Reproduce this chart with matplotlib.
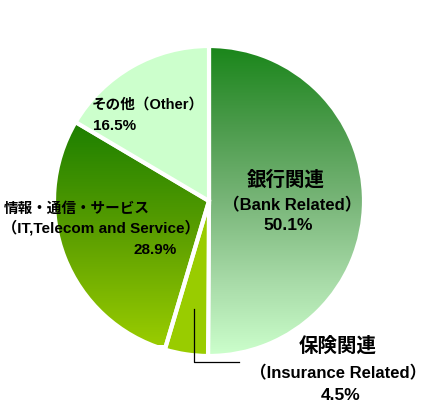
import numpy as np
import matplotlib.pyplot as plt
from matplotlib.colors import LinearSegmentedColormap

# data
names_jp = ['銀行関連', '保険関連', '情報・通信・サービス', 'その他']
names_en = ['Bank Related', 'Insurance Related', 'IT,Telecom and Service', 'Other']
shares = [50.1, 4.5, 28.9, 16.5]

FONT = ['Liberation Sans', 'Noto Sans CJK JP', 'DejaVu Sans']
plt.rcParams['font.family'] = FONT

W, H = 429, 405
fig = plt.figure(figsize=(W / 100, H / 100), dpi=100)

# pie centre and radius in pixels
cx, cy, R = 209, 201, 155
ax = fig.add_axes([(cx - R) / W, (H - cy - R) / H, 2 * R / W, 2 * R / H])

wedges, _ = ax.pie(shares, startangle=90, counterclock=False, radius=1,
                   colors=['none', '#99cc00', 'none', '#ccffcc'],
                   wedgeprops=dict(edgecolor='white', linewidth=3))


def px2d(px, py):
    return (px - cx) / R, (cy - py) / R


def fill_gradient(wedge, stops, y0, y1):
    # stops listed from bottom to top
    cmap = LinearSegmentedColormap.from_list('g', stops)
    grad = np.linspace(0, 1, 256).reshape(-1, 1)
    im = ax.imshow(grad, cmap=cmap, extent=(-1, 1, y0, y1), origin='lower',
                   aspect='auto', zorder=0.5, interpolation='bilinear')
    im.set_clip_path(wedge)


# bank slice: dark green at top fading to pale green
fill_gradient(wedges[0], ['#ccffcc', '#a6d9a6', '#78b578', '#4a9a4a', '#1a861a'],
              -1.0, 1.0)
# IT slice: dark green to yellow green
fill_gradient(wedges[2], ['#99cc00', '#5c9f00', '#1e8000'],
              px2d(0, 345)[1], px2d(0, 125)[1])

ax.set_xlim(-1, 1)
ax.set_ylim(-1, 1)
ax.set_aspect('equal')
ax.axis('off')

# leader line for the insurance label
lx0, ly0 = px2d(194, 309)
lx1, ly1 = px2d(194, 362)
lx2, ly2 = px2d(239, 362)
ax.plot([lx0, lx1, lx2], [ly0, ly1, ly2], color='black', lw=0.9, clip_on=False)


def label(x, y, s, size, ha='center'):
    fig.text(x / W, 1 - y / H, s, fontsize=size, fontweight='bold',
             ha=ha, va='center', color='black')


# bank
label(286, 180, names_jp[0], 14)
label(292, 205, '（' + names_en[0] + '）', 12)
label(288, 226, f'{shares[0]}%', 12.5)
# insurance
label(338, 346, names_jp[1], 14)
label(338, 373, '（' + names_en[1] + '）', 12)
label(341, 395, f'{shares[1]}%', 12.5)
# IT
label(4, 209, names_jp[2], 10.5, ha='left')
label(2, 228, '（' + names_en[2] + '）', 11, ha='left')
label(133, 250, f'{shares[2]}%', 11, ha='left')
# other
label(92, 105, names_jp[3] + '（' + names_en[3] + '）', 10.5, ha='left')
label(93, 126, f'{shares[3]}%', 11, ha='left')

fig.savefig('out.png', dpi=100)
